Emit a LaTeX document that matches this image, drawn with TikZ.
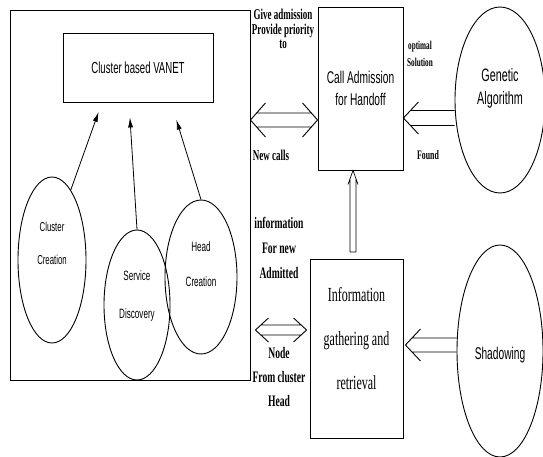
\documentclass[tikz,border=0pt]{standalone}
\usepackage{fontspec}
\setmainfont{Liberation Serif}
\newfontfamily\etroit[FakeStretch=0.6]{Liberation Sans}
\newfontfamily\etroitserif[FakeStretch=0.6]{Liberation Serif}
\usetikzlibrary{arrows.meta,shapes.geometric,calc}
\begin{document}
\begin{tikzpicture}[x=1pt,y=-1pt,
  boite/.style={draw,line width=0.9pt,inner sep=0pt},
  bulle/.style={draw,ellipse,line width=0.9pt,inner sep=0pt},
  fleche/.style={-{Latex[length=10pt,width=5pt]},line width=0.8pt},
  % flèches creuses : demi-largeur du corps, demi-largeur de la pointe, longueur de la pointe
  creuse/.style n args={3}{line width=0.9pt,to path={let \p1=(\tikztostart),\p2=(\tikztotarget),\n1={sign(\x2-\x1)},\n2={#3*#1/#2} in
    (\x1,\y1+#1pt) -- (\x2-\n1*\n2*1pt,\y1+#1pt) (\x1,\y1-#1pt) -- (\x2-\n1*\n2*1pt,\y1-#1pt)
    (\x2-\n1*#3pt,\y1+#2pt) -- (\x2,\y1) -- (\x2-\n1*#3pt,\y1-#2pt)}},
  dcreuse/.style n args={3}{line width=0.9pt,to path={let \p1=(\tikztostart),\p2=(\tikztotarget),\n1={sign(\x2-\x1)},\n2={#3*#1/#2} in
    (\x1+\n1*\n2*1pt,\y1+#1pt) -- (\x2-\n1*\n2*1pt,\y1+#1pt) (\x1+\n1*\n2*1pt,\y1-#1pt) -- (\x2-\n1*\n2*1pt,\y1-#1pt)
    (\x2-\n1*#3pt,\y1+#2pt) -- (\x2,\y1) -- (\x2-\n1*#3pt,\y1-#2pt)
    (\x1+\n1*#3pt,\y1+#2pt) -- (\x1,\y1) -- (\x1+\n1*#3pt,\y1-#2pt)}},
  vcreuse/.style={line width=0.7pt,to path={let \p1=(\tikztostart),\p2=(\tikztotarget),\n1={sign(\y2-\y1)} in
    (\x1+3pt,\y1) -- (\x1+3pt,\y2-\n1*8.4pt) (\x1-3pt,\y1) -- (\x1-3pt,\y2-\n1*8.4pt)
    (\x1-3pt,\y1) -- (\x1+3pt,\y1)
    (\x1+5pt,\y2-\n1*14pt) -- (\x1,\y2) -- (\x1-5pt,\y2-\n1*14pt)}},
  etiq/.style={font=\etroitserif\bfseries,align=center,inner sep=0pt}]
\useasboundingbox (0,0) rectangle (543,457);
% cadre de gauche
\node[boite,minimum width=240,minimum height=370] (cadre) at (130,195) {};
\node[boite,minimum width=150,minimum height=69,font=\etroit\fontsize{16}{18}\selectfont] (vanet) at (138,67.5) {Cluster based VANET};
\node[bulle,minimum width=68,minimum height=166] (cc) at (52,260) {};
\node[bulle,minimum width=66,minimum height=150] (sd) at (137,305) {};
\node[bulle,minimum width=72,minimum height=154] (hc) at (201,277) {};
\node[align=center,font=\etroit\fontsize{13}{33}\selectfont] (cctexte) at ([yshift=17pt]cc.center) {Cluster\\Creation};
\node[align=center,font=\etroit\fontsize{13.5}{38}\selectfont] (sdtexte) at ([yshift=9pt]sd.center) {Service\\Discovery};
\node[align=center,font=\etroit\fontsize{13.5}{35}\selectfont] (hctexte) at ([yshift=13pt]hc.center) {Head\\Creation};
\draw[fleche,shorten >=10pt] (cc.75) -- ($(vanet.south)+(-36,0)$); % vers le haut
\draw[fleche,shorten >=15pt] (sd.north) -- ($(vanet.south)+(-9,0)$);
\draw[fleche,shorten >=18pt] (hc.north) -- ($(vanet.south)+(33,0)$);
% partie droite
\node[boite,minimum width=85,minimum height=163,align=center,font=\etroit\fontsize{17}{22}\selectfont] (call) at (360.5,88.5) {Call Admission\\for Handoff};
\node[boite,minimum width=93,minimum height=179] (info) at (356.5,348.5) {};
\node[align=center,font=\etroitserif\fontsize{20}{44}\selectfont] (infotexte) at (356.5,339) {Information\\gathering and\\retrieval};
\node[bulle,minimum width=90,minimum height=186] (ga) at (500,100) {};
\node[align=center,font=\etroit\fontsize{18}{23}\selectfont] (gatexte) at ([yshift=12pt]ga.center) {Genetic\\Algorithm};
\node[bulle,minimum width=86,minimum height=212] (sh) at (500,351) {};
\node[font=\etroit\fontsize{17}{20}\selectfont] (shtexte) at ([yshift=-4pt]sh.center) {Shadowing};
% hauteurs des flèches creuses
\coordinate (h1) at (0,120);
\coordinate (h2) at (0,118);
\coordinate (h3) at (0,330);
\coordinate (h4) at (0,345);
\coordinate (v) at (353,252);
\draw[dcreuse={7}{17}{15}] (cadre.east |- h1) to (call.west |- h1); % admission
\draw[creuse={7.5}{16}{15}] (ga.west |- h2) to (call.east |- h2); % solution
\draw[dcreuse={5}{12}{13}] ($(cadre.east |- h3)+(5,0)$) to ($(info.west |- h3)+(-3,0)$); % informations
\draw[creuse={7}{16}{15}] (sh.west |- h4) to ($(info.east |- h4)+(2,0)$); % ombrage
\draw[vcreuse] (v) to (call.south -| v);
% textes des flèches
\node[etiq,font=\etroitserif\bfseries\fontsize{15}{14.5}\selectfont] (donne) at (283,29) {Give admission\\Provide priority\\to};
\node[etiq,font=\etroitserif\bfseries\fontsize{15}{15}\selectfont] (nouv) at (271,155) {New calls};
\node[etiq,font=\etroitserif\bfseries\fontsize{12}{17}\selectfont] (optim) at (420,53.5) {optimal\\Solution};
\node[etiq,font=\etroitserif\bfseries\fontsize{13}{15}\selectfont] (trouve) at (428,155) {Found};
\node[etiq,font=\etroitserif\bfseries\fontsize{16}{25}\selectfont] (infor) at (279,248) {information\\For new\\Admitted};
\node[etiq,font=\etroitserif\bfseries\fontsize{16}{24}\selectfont] (noeud) at (279,377) {Node\\From cluster\\Head};
\end{tikzpicture}
\end{document}
